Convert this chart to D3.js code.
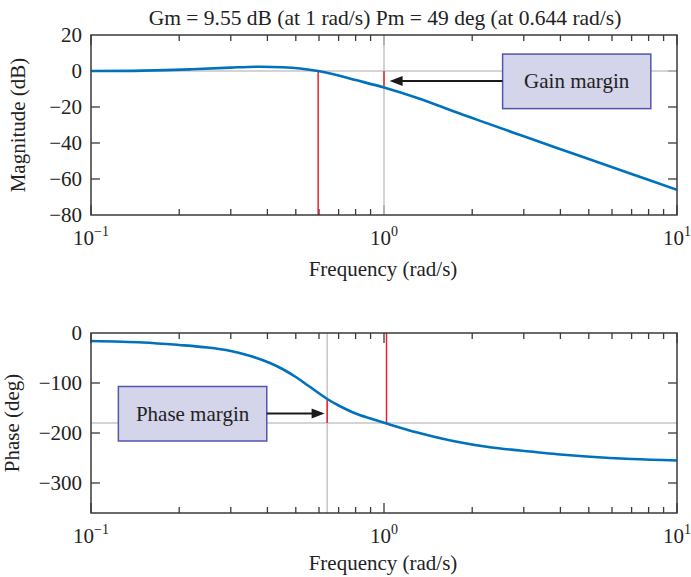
<!DOCTYPE html>
<html>
<head>
<meta charset="utf-8">
<script src="https://cdn.jsdelivr.net/npm/d3@7"></script>
<style>
  html, body { margin: 0; padding: 0; background: #fff; }
  svg { display: block; }
  text { font-family: "Liberation Serif", "Times New Roman", serif; fill: #222; }
</style>
</head>
<body>
<svg id="chart" width="691" height="577"></svg>
<script>
// ---------- data ----------
const titleText = "Gm = 9.55 dB (at 1 rad/s) Pm = 49 deg (at 0.644 rad/s)";
const magFreq = [0.1, 0.15, 0.218, 0.3, 0.377, 0.45, 0.517, 0.596, 0.7, 0.8, 1.0, 1.3, 1.86, 2.13, 3.0, 4.67, 7.0, 10.0];
const magDb   = [0.0, 0.2, 0.9, 1.9, 2.4, 2.1, 1.4, 0.0, -2.5, -5.0, -9.2, -15.0, -24.3, -27.7, -36.3, -47.2, -57.2, -66.0];
const phaseFreq = [0.1, 0.15, 0.2, 0.25, 0.3, 0.35, 0.408, 0.45, 0.503, 0.55, 0.64, 0.7, 0.8, 0.9, 1.02, 1.3, 1.72, 2.3, 2.91, 4.0, 4.92, 7.0, 10.0];
const phaseDeg  = [-16, -19, -24, -29, -36, -46, -60, -72, -89, -105, -132, -145, -161, -171, -181, -199, -216, -228.5, -235, -243, -247, -252, -255];
const magTicks = [20, 0, -20, -40, -60, -80];
const phaseTicks = [0, -100, -200, -300];
const decadeExps = [-1, 0, 1];
const magDomain = [-80, 20];
const phaseDomain = [-360, 0];
const freqDomain = [0.1, 10];
// margin markers
const gainCrossFreq = 0.596;     // red line in magnitude plot
const phaseCrossFreq = 1.0;      // grey line in magnitude plot
const gmEndDb = -9.0;            // gain margin segment end
const pmFreq = 0.64;             // grey line in phase plot
const pmEndDeg = -132;           // phase margin segment end
const phaseCrossRedFreq = 1.02;  // red line in phase plot
const refDb = 0;
const refDeg = -180;
// annotations (data coordinates)
const gainBox = {f0: 2.54, f1: 8.14, v0: 9.4, v1: -20.9, label: "Gain margin", tipF: 1.045, tipV: -5.6};
const phaseBox = {f0: 0.124, f1: 0.398, v0: -107, v1: -216, label: "Phase margin", tipF: 0.627, tipV: -161};

// ---------- layout ----------
const svg = d3.select("#chart");
const X0 = 91, X1 = 677;
const topPlot = {y0: 35, y1: 215, xlab: 61};
const botPlot = {y0: 333, y1: 513, xlab: 57};
const fs = 21;
const axisColor = "#3a3a3a";
const gridColor = "#c6c6c6";
const red = "#e3242b";
const blue = "#0072BD";

const x = d3.scaleLog().domain(freqDomain).range([X0, X1]);
const yMag = d3.scaleLinear().domain(magDomain).range([topPlot.y1, topPlot.y0]);
const yPh = d3.scaleLinear().domain(phaseDomain).range([botPlot.y1, botPlot.y0]);

const minorTicks = [];
decadeExps.slice(0, -1).forEach(e => { for (let k = 2; k <= 9; k++) minorTicks.push(k * Math.pow(10, e)); });
const majorTicks = decadeExps.map(e => Math.pow(10, e));

function fmtMinus(v) { return (v < 0 ? "\u2212" : "") + Math.abs(v); }

function drawPanel(y, yTicks, yLabel, yLabelX, plot, clipId) {
  const g = svg.append("g");
  svg.append("defs").append("clipPath").attr("id", clipId)
    .append("rect").attr("x", X0).attr("y", plot.y0).attr("width", X1 - X0).attr("height", plot.y1 - plot.y0);
  yTicks.forEach(v => {
    const yy = y(v);
    if (yy > plot.y0 + 0.5 && yy < plot.y1 - 0.5) {
      g.append("line").attr("x1", X0).attr("x2", X0 + 9).attr("y1", yy).attr("y2", yy).attr("stroke", axisColor).attr("stroke-width", 1.3);
      g.append("line").attr("x1", X1).attr("x2", X1 - 9).attr("y1", yy).attr("y2", yy).attr("stroke", axisColor).attr("stroke-width", 1.3);
    }
    g.append("text").attr("x", 82).attr("y", yy).attr("dy", "0.35em").attr("text-anchor", "end")
      .attr("font-size", fs).text(fmtMinus(v));
  });
  minorTicks.forEach(f => {
    const xx = x(f);
    g.append("line").attr("x1", xx).attr("x2", xx).attr("y1", plot.y1).attr("y2", plot.y1 - 6).attr("stroke", axisColor).attr("stroke-width", 1.3);
    g.append("line").attr("x1", xx).attr("x2", xx).attr("y1", plot.y0).attr("y2", plot.y0 + 6).attr("stroke", axisColor).attr("stroke-width", 1.3);
  });
  majorTicks.forEach(f => {
    const xx = x(f);
    g.append("line").attr("x1", xx).attr("x2", xx).attr("y1", plot.y1).attr("y2", plot.y1 - 10).attr("stroke", axisColor).attr("stroke-width", 1.3);
    g.append("line").attr("x1", xx).attr("x2", xx).attr("y1", plot.y0).attr("y2", plot.y0 + 10).attr("stroke", axisColor).attr("stroke-width", 1.3);
  });
  decadeExps.forEach(e => {
    const t = g.append("text").attr("x", x(Math.pow(10, e))).attr("y", plot.y1 + 30)
      .attr("text-anchor", "middle").attr("font-size", fs);
    t.append("tspan").text("10");
    t.append("tspan").attr("font-size", 14).attr("dy", -9).text(fmtMinus(e));
  });
  g.append("text").attr("x", (X0 + X1) / 2 - 1).attr("y", plot.y1 + plot.xlab).attr("text-anchor", "middle")
    .attr("font-size", fs).text("Frequency (rad/s)");
  g.append("text").attr("transform", `translate(${yLabelX},${(plot.y0 + plot.y1) / 2}) rotate(-90)`)
    .attr("text-anchor", "middle").attr("font-size", fs).text(yLabel);
  return g;
}

function frame(plot) {
  svg.append("rect").attr("x", X0).attr("y", plot.y0).attr("width", X1 - X0).attr("height", plot.y1 - plot.y0)
    .attr("fill", "none").attr("stroke", axisColor).attr("stroke-width", 1.5);
}

function arrow(g, xFrom, xTip, yy) {
  g.append("line").attr("x1", xFrom).attr("x2", xTip + (xTip < xFrom ? 10 : -10)).attr("y1", yy).attr("y2", yy)
    .attr("stroke", "#1a1a1a").attr("stroke-width", 2);
  const dir = xTip < xFrom ? 1 : -1;
  g.append("path").attr("d", `M${xTip},${yy} L${xTip + dir * 13},${yy - 5} L${xTip + dir * 13},${yy + 5} Z`).attr("fill", "#1a1a1a");
}

function box(g, b, y) {
  const bx0 = x(b.f0), bx1 = x(b.f1), by0 = y(b.v0), by1 = y(b.v1);
  g.append("rect").attr("x", bx0).attr("y", by0).attr("width", bx1 - bx0).attr("height", by1 - by0)
    .attr("fill", "#d4d4ea").attr("stroke", "#5555b0").attr("stroke-width", 1.5);
  g.append("text").attr("x", (bx0 + bx1) / 2).attr("y", (by0 + by1) / 2).attr("dy", "0.33em")
    .attr("text-anchor", "middle").attr("font-size", fs).text(b.label);
}

// ---------- title ----------
svg.append("text").attr("x", 385).attr("y", 25).attr("text-anchor", "middle").attr("font-size", 21.5).text(titleText);

// ---------- magnitude panel ----------
drawPanel(yMag, magTicks, "Magnitude (dB)", 25, topPlot, "clipTop");
const gmc = svg.append("g").attr("clip-path", "url(#clipTop)");
gmc.append("line").attr("x1", X0).attr("x2", X1).attr("y1", yMag(refDb)).attr("y2", yMag(refDb)).attr("stroke", gridColor).attr("stroke-width", 1.5);
gmc.append("line").attr("x1", x(phaseCrossFreq)).attr("x2", x(phaseCrossFreq)).attr("y1", topPlot.y0).attr("y2", topPlot.y1).attr("stroke", gridColor).attr("stroke-width", 1.5);
gmc.append("line").attr("x1", x(gainCrossFreq)).attr("x2", x(gainCrossFreq)).attr("y1", yMag(refDb)).attr("y2", topPlot.y1).attr("stroke", red).attr("stroke-width", 1.5);
gmc.append("line").attr("x1", x(phaseCrossFreq)).attr("x2", x(phaseCrossFreq)).attr("y1", yMag(refDb)).attr("y2", yMag(gmEndDb)).attr("stroke", red).attr("stroke-width", 1.5);
const magLine = d3.line().x((d, i) => x(magFreq[i])).y(d => yMag(d)).curve(d3.curveCatmullRom.alpha(0.5));
gmc.append("path").attr("d", magLine(magDb)).attr("fill", "none").attr("stroke", blue).attr("stroke-width", 2.6);
box(svg, gainBox, yMag);
arrow(svg, x(gainBox.f0), x(gainBox.tipF), yMag(gainBox.tipV));
frame(topPlot);

// ---------- phase panel ----------
drawPanel(yPh, phaseTicks, "Phase (deg)", 19, botPlot, "clipBot");
const gpc = svg.append("g").attr("clip-path", "url(#clipBot)");
gpc.append("line").attr("x1", X0).attr("x2", X1).attr("y1", yPh(refDeg)).attr("y2", yPh(refDeg)).attr("stroke", gridColor).attr("stroke-width", 1.5);
gpc.append("line").attr("x1", x(pmFreq)).attr("x2", x(pmFreq)).attr("y1", botPlot.y0).attr("y2", botPlot.y1).attr("stroke", gridColor).attr("stroke-width", 1.5);
gpc.append("line").attr("x1", x(phaseCrossRedFreq)).attr("x2", x(phaseCrossRedFreq)).attr("y1", botPlot.y0).attr("y2", yPh(refDeg)).attr("stroke", red).attr("stroke-width", 1.5);
gpc.append("line").attr("x1", x(pmFreq)).attr("x2", x(pmFreq)).attr("y1", yPh(refDeg)).attr("y2", yPh(pmEndDeg)).attr("stroke", red).attr("stroke-width", 1.5);
const phLine = d3.line().x((d, i) => x(phaseFreq[i])).y(d => yPh(d)).curve(d3.curveCatmullRom.alpha(0.5));
gpc.append("path").attr("d", phLine(phaseDeg)).attr("fill", "none").attr("stroke", blue).attr("stroke-width", 2.6);
box(svg, phaseBox, yPh);
arrow(svg, x(phaseBox.f1), x(phaseBox.tipF), yPh(phaseBox.tipV));
frame(botPlot);
</script>
</body>
</html>
